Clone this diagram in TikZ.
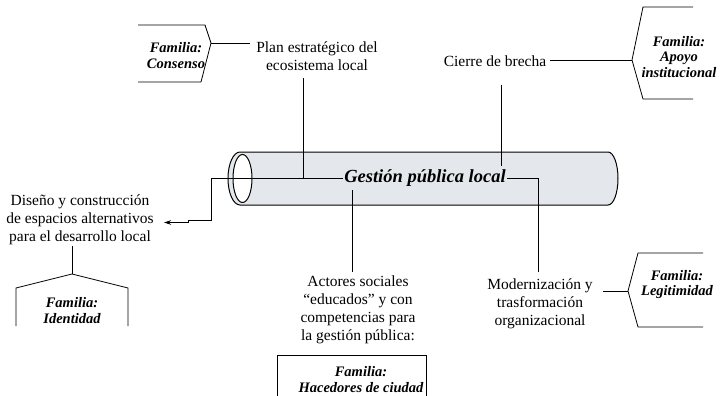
\documentclass[tikz,border=0pt]{standalone}
\usepackage{fontspec}
\setmainfont{Liberation Serif}
\usetikzlibrary{arrows.meta}
\definecolor{tube}{HTML}{E4E7EB}
\begin{document}
\begin{tikzpicture}[x=1pt,y=-1pt,
  txt/.style={font=\fontsize{15.5}{18}\selectfont, align=center, inner sep=0pt},
  fam/.style={font=\fontsize{14.5}{15.5}\selectfont\bfseries\itshape, align=center, inner sep=0pt},
  ln/.style={line width=0.8pt},
  famshape/.style={line width=0.8pt}]
\useasboundingbox (0,0) rectangle (723,396);
% tube
\draw[line width=1pt, fill=tube] (240,152) -- (608,152)
  arc[start angle=-90,end angle=90,x radius=10,y radius=26.5] -- (240,205)
  arc[start angle=90,end angle=270,x radius=12,y radius=26.5] -- cycle;
\draw[line width=1pt, fill=white] (242.5,178.5) ellipse[x radius=9.5,y radius=24];
% texts
\node[font=\fontsize{18.5}{20}\selectfont\bfseries\itshape, inner sep=1pt] (gpl) at (425,178) {Gestión pública local};
\node[txt] (plan) at (317,56.5) {Plan estratégico del\\ecosistema local};
\node[txt] (cierre) at (495,61) {Cierre de brecha};
\node[txt] (diseno) at (80,220) {Diseño y construcción\\de espacios alternativos\\para el desarrollo local};
\node[txt] (actores) at (358,310) {Actores sociales\\“educados” y con\\competencias para\\la gestión pública:};
\node[txt] (modern) at (540,303.5) {Modernización y\\trasformación\\organizacional};
% family labels
\node[fam] (fcons) at (176,55.5) {Familia:\\Consenso};
\node[fam] (fapoyo) at (679,57) {Familia:\\Apoyo\\institucional};
\node[fam] (flegit) at (677,284.5) {Familia:\\Legitimidad};
\node[fam] (fident) at (72,310.5) {Familia:\\Identidad};
\node[fam] (fhace) at (361,379.5) {Familia:\\Hacedores de ciudad};
% family shapes
\draw[famshape] (138,25) -- (205,25) -- (211,43) -- (201,82) -- (138,82);
\draw[famshape] (693,7) -- (643,7) -- (632,60) -- (643,99) -- (693,99);
\draw[famshape] (703,253) -- (638,253) -- (628,291) -- (638,327) -- (703,327);
\draw[famshape] (16,326) -- (16,288) -- (72,274) -- (128,288) -- (128,326);
\draw[famshape] (277,396) -- (277,355) -- (426,355) -- (426,396);
% coordinates
\coordinate (consTip) at (211,43);
\coordinate (planW) at (250,43);
\coordinate (apoyoTip) at (632,60);
\coordinate (legTip) at (628,291);
\coordinate (modE) at (603,291);
\coordinate (identTip) at (72,274);
\coordinate (disS) at (72,246);
\coordinate (planS) at (303,78);
\coordinate (planJ) at (303,178);
\coordinate (cierreS) at (501,85);
\coordinate (cierreEnd) at (501,166);
\coordinate (actN) at (352,272);
\coordinate (actTop) at (352,190);
\coordinate (modN) at (538,272);
\coordinate (disE) at (164,222.5);
% connectors
\draw[ln] (consTip) -- (planW);
\draw[ln] ([xshift=4pt]cierre.east |- apoyoTip) -- (apoyoTip);
\draw[ln] (modE) -- (legTip);
\draw[ln] (disS) -- (identTip);
\draw[ln] (planS) -- (planJ);
\draw[ln] (cierreS) -- (cierreEnd);
\draw[ln] (actTop) -- (actN);
\draw[ln] (gpl.east) -- (538,178) -- (modN);
\draw[ln, -{Stealth[length=7pt,width=4.5pt]}] (gpl.west) -- (211,178) -- (211,220) -- (188,220) -- (188,222.5) -- (disE);
\end{tikzpicture}
\end{document}
